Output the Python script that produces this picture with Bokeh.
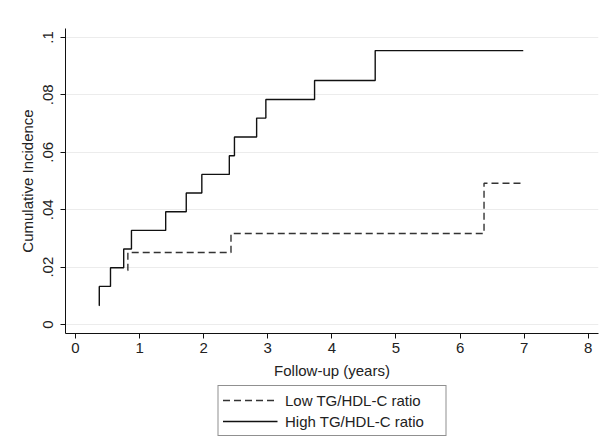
from bokeh.plotting import figure
from bokeh.layouts import column
from bokeh.models import FixedTicker, Legend, LegendItem, Range1d
from bokeh.embed import file_html
from bokeh.resources import INLINE

# Data (Kaplan-Meier style cumulative incidence)
high_time = [0.37, 0.371, 0.546, 0.752, 0.873, 1.407, 1.728, 1.971, 2.40, 2.48, 2.826, 2.97, 3.73, 4.676, 6.986]
high_inc = [0.0066, 0.0133, 0.0198, 0.0263, 0.0328, 0.0393, 0.0458, 0.0523, 0.0588, 0.0653, 0.0719, 0.0784, 0.0850, 0.0954, 0.0954]

low_time = [0.816, 0.817, 2.426, 6.374, 6.986]
low_inc = [0.0188, 0.0251, 0.0317, 0.0492, 0.0492]

x_ticks = [0, 1, 2, 3, 4, 5, 6, 7, 8]
y_ticks = [0, 0.02, 0.04, 0.06, 0.08, 0.1]
y_tick_labels = ["0", ".02", ".04", ".06", ".08", ".1"]
series_labels = ["Low TG/HDL-C ratio", "High TG/HDL-C ratio"]

FONT = "Liberation Sans"
TXT = "#222222"
LOW_STYLE = dict(line_color="#333333", line_width=1.4, line_dash="7 4")
HIGH_STYLE = dict(line_color="#111111", line_width=1.4)

p = figure(frame_width=533, frame_height=305, output_backend="svg", toolbar_location=None,
           x_range=Range1d(-0.156, 8.16), y_range=Range1d(-0.0031, 0.1031),
           min_border_left=65, min_border_top=28, min_border_right=2, min_border_bottom=0)
p.background_fill_color = "white"
p.border_fill_color = "white"
p.outline_line_color = None

p.step(low_time, low_inc, mode="after", **LOW_STYLE)
p.step(high_time, high_inc, mode="after", **HIGH_STYLE)

# axes
p.xaxis.ticker = FixedTicker(ticks=x_ticks)
p.yaxis.ticker = FixedTicker(ticks=y_ticks)
p.yaxis.major_label_overrides = {t: l for t, l in zip(y_ticks, y_tick_labels)}
p.yaxis.major_label_orientation = "vertical"
for ax in (p.xaxis[0], p.yaxis[0]):
    ax.axis_line_color = "#111111"
    ax.major_tick_line_color = "#111111"
    ax.major_tick_out = 5
    ax.major_tick_in = 0
    ax.minor_tick_line_color = None
    ax.major_label_text_font = FONT
    ax.major_label_text_font_size = "15px"
    ax.major_label_text_color = TXT
    ax.axis_label_text_font = FONT
    ax.axis_label_text_font_size = "15px"
    ax.axis_label_text_font_style = "normal"
    ax.axis_label_text_color = TXT
p.xaxis.axis_label = "Follow-up (years)"
p.yaxis.axis_label = "Cumulative Incidence"
p.xaxis.major_label_standoff = 4
p.xaxis.axis_label_standoff = 6
p.yaxis.major_label_standoff = 7
p.yaxis.axis_label_standoff = 5

p.xgrid.grid_line_color = None
p.ygrid.grid_line_color = "#ececec"
p.ygrid.grid_line_width = 1

# legend strip below the x axis: same series, drawn out of this strip's view
lg = figure(frame_width=533, frame_height=56, output_backend="svg", toolbar_location=None,
            x_range=Range1d(100, 101), y_range=Range1d(100, 101),
            x_axis_location=None, y_axis_location=None,
            min_border_left=65, min_border_top=0, min_border_right=2, min_border_bottom=0)
lg.background_fill_color = "white"
lg.border_fill_color = "white"
lg.outline_line_color = None
lg.grid.grid_line_color = None
r_low = lg.step(low_time, low_inc, mode="after", **LOW_STYLE)
r_high = lg.step(high_time, high_inc, mode="after", **HIGH_STYLE)

legend = Legend(items=[LegendItem(label=series_labels[0], renderers=[r_low]),
                       LegendItem(label=series_labels[1], renderers=[r_high])],
                location="top_center", orientation="vertical")
legend.border_line_color = "#222222"
legend.border_line_width = 1
legend.background_fill_color = "white"
legend.label_text_font = FONT
legend.label_text_font_size = "15px"
legend.label_text_color = TXT
legend.glyph_width = 55
legend.glyph_height = 20
legend.label_height = 20
legend.label_width = 156
legend.label_standoff = 8
legend.padding = 4
legend.spacing = 1
legend.margin = 4
lg.add_layout(legend)

layout = column(p, lg, spacing=0)
open("out.html", "w").write(file_html(layout, INLINE))
